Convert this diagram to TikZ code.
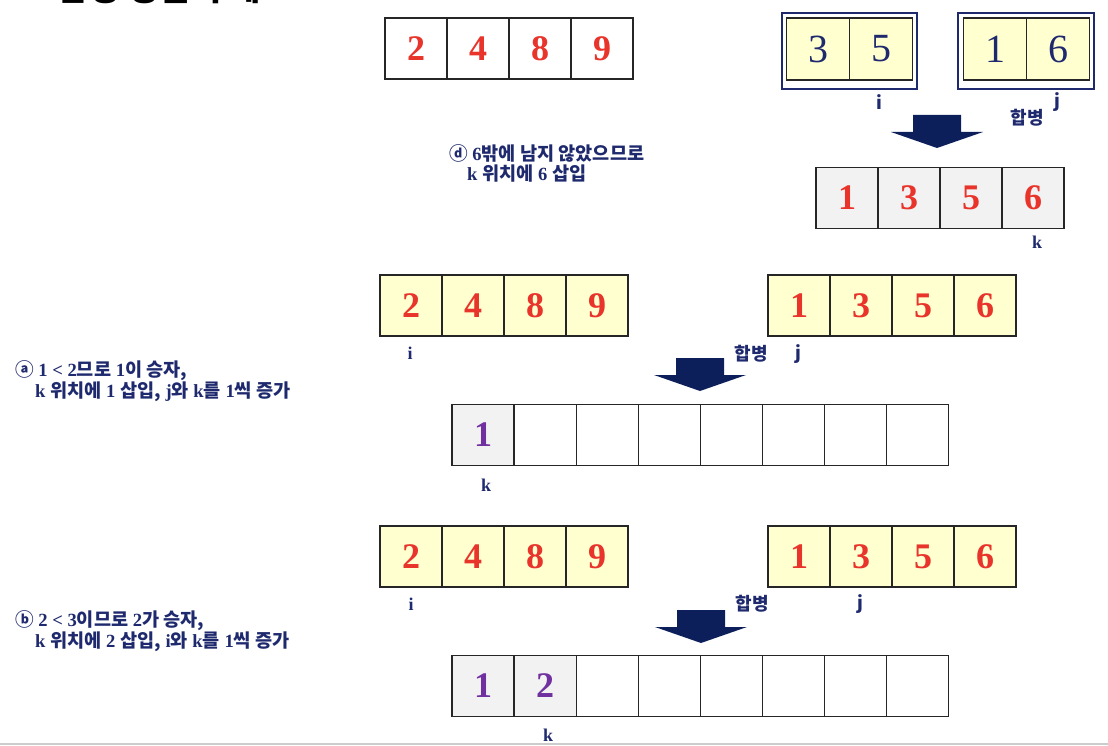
\documentclass[tikz,border=0pt]{standalone}
\usepackage{fontspec}
\setmainfont{Liberation Serif}
\newfontfamily\kr{Noto Sans CJK KR}
\usetikzlibrary{positioning}
\definecolor{navy}{RGB}{31,42,110}
\definecolor{arrowblue}{RGB}{12,31,91}
\definecolor{numred}{RGB}{232,52,42}
\definecolor{cellyellow}{RGB}{255,255,208}
\definecolor{cellgray}{RGB}{242,242,242}
\definecolor{winpurple}{RGB}{112,48,160}
\newcommand{\hg}[1]{{\kr\bfseries #1}}
\tikzset{
  cell/.style={draw=black!85, line width=1.1pt, minimum width=62pt, minimum height=61pt,
    inner sep=0pt, text=numred, font=\fontsize{36}{36}\selectfont\bfseries},
  subcell/.style={cell, minimum width=63pt, minimum height=62pt, fill=cellyellow,
    text=navy, font=\fontsize{40}{40}\selectfont},
  frame/.style={draw=navy, line width=2pt},
  idx/.style={text=navy, inner sep=0pt, font=\fontsize{18}{18}\selectfont\bfseries},
  note/.style={anchor=west, text=navy, inner sep=0pt, font=\fontsize{18.6}{18.6}\selectfont\bfseries},
}

\begin{document}
\begin{tikzpicture}[x=1pt, y=-1pt]
  \useasboundingbox (0,0) rectangle (1108,746);
  % title, cut off at the top
  \node[anchor=base west, inner sep=0pt, font=\kr\bfseries\fontsize{34}{34}\selectfont] (title) at (57,1) {합병 정렬의 예};

  % ---- step d ----
  \foreach \v [count=\n] in {2,4,8,9}
    \node[cell, fill=white] (a\n) at ({416+62*(\n-1)}, 48.5) {\v};
  \draw[frame] (782,13) rectangle (917,89);
  \draw[frame] (958,13) rectangle (1094,89);
  \foreach \v [count=\n] in {3,5}
    \node[subcell] (p\n) at ({818+63*(\n-1)}, 49) {\v};
  \foreach \v [count=\n] in {1,6}
    \node[subcell] (q\n) at ({995+63*(\n-1)}, 49) {\v};
  \node[idx] (di) at (879,102) {\hg{i}};
  \node[idx] (dj) at (1057,102) {\hg{j}};
  \node[idx] (dm) at (1027,118) {\hg{합병}};
  \node[note] (d1) at (449,153) {\hg{ⓓ} 6\hg{밖에 남지 않았으므로}};
  \node[note] (d2) at (467,174) {k \hg{위치에} 6 \hg{삽입}};
  \foreach \v [count=\n] in {1,3,5,6}
    \node[cell, fill=cellgray] (r\n) at ({847+62*(\n-1)}, 198) {\v};
  \node[idx] (dk) at (1037,242) {k};

  % ---- step a ----
  \foreach \v [count=\n] in {2,4,8,9}
    \node[cell, fill=cellyellow] (b\n) at ({411+62*(\n-1)}, 305.5) {\v};
  \foreach \v [count=\n] in {1,3,5,6}
    \node[cell, fill=cellyellow] (c\n) at ({799+62*(\n-1)}, 305.5) {\v};
  \node[idx] (ai) at (410,353) {i};
  \node[idx] (am) at (751,354) {\hg{합병}};
  \node[idx] (aj) at (798,354) {\hg{j}};
  \node[note] (a1) at (15,371) {\hg{ⓐ} 1 < 2\hg{므로} 1\hg{이 승자,}};
  \node[note] (a2) at (35,392) {k \hg{위치에} 1 \hg{삽입,} j\hg{와} k\hg{를} 1\hg{씩 증가}};
  \node[cell, fill=cellgray, text=winpurple] (e1) at (483,435) {1};
  \foreach \n in {2,...,8}
    \node[cell, fill=white] (e\n) at ({483+62.1*(\n-1)}, 435) {};
  \node[idx] (ak) at (486,485) {k};

  % ---- step b ----
  \foreach \v [count=\n] in {2,4,8,9}
    \node[cell, fill=cellyellow] (f\n) at ({411+62*(\n-1)}, 556.5) {\v};
  \foreach \v [count=\n] in {1,3,5,6}
    \node[cell, fill=cellyellow] (g\n) at ({799+62*(\n-1)}, 556.5) {\v};
  \node[idx] (bi) at (411,604) {i};
  \node[idx] (bm) at (752,604) {\hg{합병}};
  \node[idx] (bj) at (860,604) {\hg{j}};
  \node[note] (b1) at (15,621) {\hg{ⓑ} 2 < 3\hg{이므로} 2\hg{가 승자,}};
  \node[note] (b2) at (35,642) {k \hg{위치에} 2 \hg{삽입,} i\hg{와} k\hg{를} 1\hg{씩 증가}};
  \foreach \v [count=\n] in {1,2}
    \node[cell, fill=cellgray, text=winpurple] (h\n) at ({483+62.1*(\n-1)}, 686) {\v};
  \foreach \n in {3,...,8}
    \node[cell, fill=white] (h\n) at ({483+62.1*(\n-1)}, 686) {};
  \node[idx] (bk) at (548,735) {k};

  % merge arrows
  \foreach \ax/\ay in {937/115, 700/358, 701/610}
    \fill[arrowblue] (\ax-24,\ay) -- (\ax+24,\ay) -- (\ax+24,\ay+17) -- (\ax+46,\ay+17)
      -- (\ax,\ay+33) -- (\ax-46,\ay+17) -- (\ax-24,\ay+17) -- cycle;

  \draw[black!20, line width=2pt] (0,744) -- (1108,744);
\end{tikzpicture}
\end{document}
